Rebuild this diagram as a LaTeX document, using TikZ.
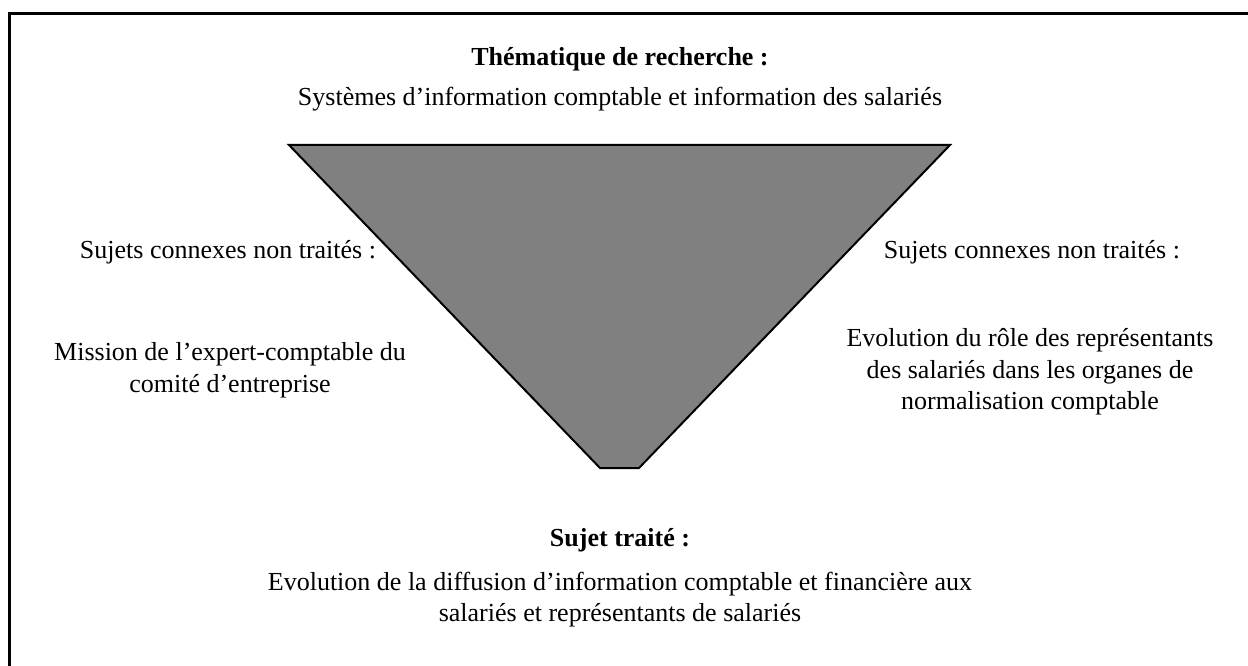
\documentclass[tikz,border=0pt]{standalone}
\usepackage{fontspec}
\setmainfont{Liberation Serif}
\begin{document}
\begin{tikzpicture}[x=1pt,y=-1pt,
  txt/.style={font=\fontsize{26}{31}\selectfont, inner sep=0pt, anchor=base, align=center},
  btxt/.style={txt, font=\fontsize{26}{31}\selectfont\bfseries},
  frame/.style={line width=3pt},
  funnel/.style={draw=black, line width=2pt, fill=black!50, line join=miter}]
\useasboundingbox (0,0) rectangle (1248,666);
\fill[white] (0,0) rectangle (1248,666);
% frame (left and top edges visible)
\coordinate (fb) at (9,666);
\coordinate (fc) at (9,14);
\coordinate (fr) at (1248,14);
\draw[frame] (fb) -- (fc) -- (fr);
% funnel
\coordinate (tl) at (289,145);
\coordinate (tr) at (950,145);
\coordinate (br) at (639,468);
\coordinate (bl) at (600,468);
\draw[funnel] (tl) -- (tr) -- (br) -- (bl) -- cycle;
% texts
\node[btxt] (theme) at (620,66) {Thématique de recherche :};
\node[txt] (themetxt) at (620,106) {Systèmes d’information comptable et information des salariés};
\node[txt] (lhead) at (228,258) {Sujets connexes non traités :};
\node[txt] (ltxt1) at (230,360) {Mission de l’expert-comptable du};
\node[txt] (ltxt2) at (230,392) {comité d’entreprise};
\node[txt] (rhead) at (1032,258) {Sujets connexes non traités :};
\node[txt] (rtxt1) at (1030,346) {Evolution du rôle des représentants};
\node[txt] (rtxt2) at (1030,378) {des salariés dans les organes de};
\node[txt] (rtxt3) at (1030,409) {normalisation comptable};
\node[btxt] (subj) at (620,546) {Sujet traité :};
\node[txt] (subj1) at (620,590) {Evolution de la diffusion d’information comptable et financière aux};
\node[txt] (subj2) at (620,621) {salariés et représentants de salariés};
\end{tikzpicture}
\end{document}
